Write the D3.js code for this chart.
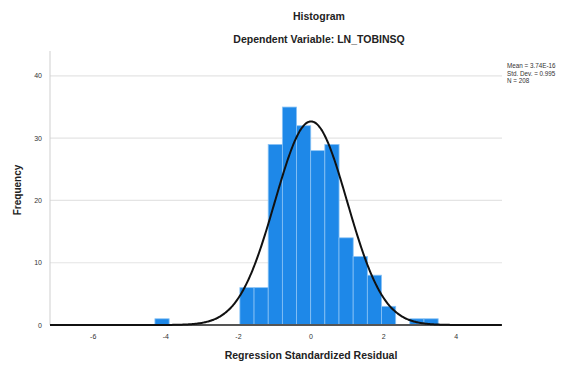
<!DOCTYPE html>
<html><head><meta charset="utf-8">
<script src="https://cdn.jsdelivr.net/npm/d3@7"></script>
<style>
html,body{margin:0;padding:0;background:#fff;}
svg{display:block;font-family:"Liberation Sans",Arial,sans-serif;}
</style></head>
<body><svg id="c" width="570" height="365"></svg>
<script>
const binStarts = [-4.30,-3.91,-3.52,-3.13,-2.74,-2.35,-1.96,-1.57,-1.18,-0.79,-0.40,-0.01,0.38,0.77,1.16,1.55,1.94,2.33,2.72,3.11];
const counts    = [1,0,0,0,0,0,6,6,29,35,32,28,29,14,11,8,3,0,1,1];
const binWidth = 0.392;
const xTicks = [-6,-4,-2,0,2,4];
const yTicks = [0,10,20,30,40];
const stats = {mean:0, sd:0.995, n:208};
const legendLines = ["Mean = 3.74E-16","Std. Dev. = 0.995","N = 208"];

const svg = d3.select("#c");
const x = d3.scaleLinear().domain([-7.19,5.26]).range([50,502]);
const y = d3.scaleLinear().domain([0,44]).range([325,51]);

// gridlines
svg.append("g").selectAll("line").data(yTicks.filter(d=>d>0)).join("line")
  .attr("x1",50).attr("x2",502).attr("y1",d=>y(d)).attr("y2",d=>y(d))
  .attr("stroke","#e4e4e4").attr("stroke-width",1.2);

// y axis line
svg.append("line").attr("x1",50).attr("x2",50).attr("y1",y(44)).attr("y2",y(0))
  .attr("stroke","#cfcfcf").attr("stroke-width",1);

// bars
const bins = binStarts.map((s,i)=>({s, c:counts[i]})).filter(d=>d.c>0);
svg.append("g").selectAll("rect").data(bins).join("rect")
  .attr("x",d=>x(d.s)).attr("width",d=>x(d.s+binWidth)-x(d.s))
  .attr("y",d=>y(d.c)).attr("height",d=>y(0)-y(d.c))
  .attr("fill","#1e88e8").attr("stroke","#8cc4f5").attr("stroke-width",0.8);

// x axis line
svg.append("line").attr("x1",50).attr("x2",502).attr("y1",y(0)).attr("y2",y(0))
  .attr("stroke","#555").attr("stroke-width",2.2);

// normal curve
const pts = d3.range(-7.19,5.26,0.02).map(v=>[v, stats.n*binWidth/(stats.sd*Math.sqrt(2*Math.PI))*Math.exp(-0.5*Math.pow((v-stats.mean)/stats.sd,2))]);
svg.append("path").datum(pts)
  .attr("d",d3.line().x(d=>x(d[0])).y(d=>y(d[1])).curve(d3.curveBasis))
  .attr("fill","none").attr("stroke","#111").attr("stroke-width",2);

// tick labels
svg.append("g").selectAll("text").data(xTicks).join("text")
  .attr("x",d=>x(d)).attr("y",339).attr("text-anchor","middle")
  .attr("font-size",7).attr("fill","#333").text(d=>d);
svg.append("g").selectAll("text").data(yTicks).join("text")
  .attr("x",42).attr("y",d=>y(d)+2.5).attr("text-anchor","end")
  .attr("font-size",7).attr("fill","#333").text(d=>d);

// titles
svg.append("text").attr("x",319).attr("y",20).attr("text-anchor","middle")
  .attr("font-size",10.5).attr("font-weight","bold").attr("fill","#222").text("Histogram");
svg.append("text").attr("x",319).attr("y",43).attr("text-anchor","middle")
  .attr("font-size",10.5).attr("font-weight","bold").attr("fill","#222").text("Dependent Variable: LN_TOBINSQ");
svg.append("text").attr("x",311).attr("y",359).attr("text-anchor","middle")
  .attr("font-size",10.5).attr("font-weight","bold").attr("fill","#222").text("Regression Standardized Residual");
svg.append("text").attr("transform","translate(21,190) rotate(-90)").attr("text-anchor","middle")
  .attr("font-size",10).attr("font-weight","bold").attr("fill","#222").text("Frequency");

// legend
svg.append("g").selectAll("text").data(legendLines).join("text")
  .attr("x",507).attr("y",(d,i)=>68+i*7.5).attr("font-size",6.3).attr("fill","#333").text(d=>d);
</script></body></html>
